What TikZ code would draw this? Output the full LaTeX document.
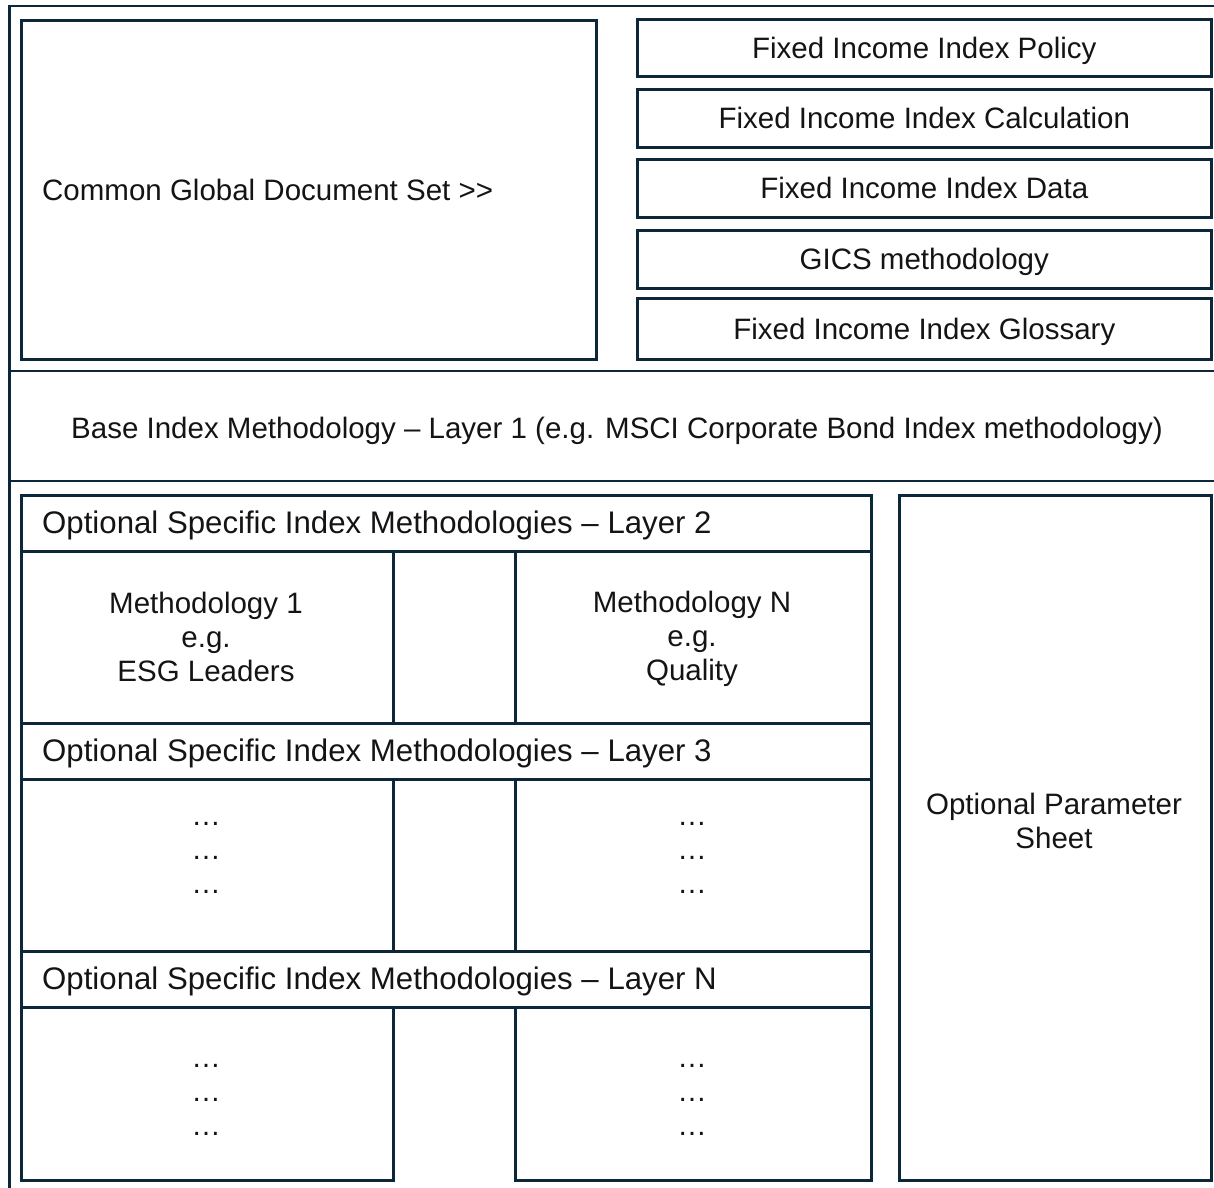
\documentclass[tikz,border=0pt]{standalone}
\usepackage{fontspec}
\setmainfont{Liberation Sans}
\usetikzlibrary{positioning,calc}
\definecolor{msciblue}{HTML}{0C2739}

\begin{document}
\begin{tikzpicture}[x=1pt,y=-1pt]
\tikzset{
    txt/.style={font=\fontsize{29.5}{34}\selectfont,text=black!92,align=center,inner sep=0pt},
    oneline/.style={txt,text height=21pt,text depth=0pt},
    box/.style={rectangle,draw=msciblue,line width=2.6pt,inner sep=0pt,anchor=north west},
    head/.style={oneline,anchor=west},
    layerhead/.style={head,font=\fontsize{31.2}{34}\selectfont},
    frame/.style={draw=msciblue,line width=2.6pt}
}
\useasboundingbox (0,0) rectangle (1214,1187);
% outer frame
\draw[frame] (1220,6) -- (9.5,6) -- (9.5,1195);
\draw[frame] (9.5,371) -- (1220,371) (9.5,481) -- (1220,481);
% common document set
\node[box,minimum width=575pt,minimum height=339pt] (common) at (20,19) {};
\node[head,right=22pt of common.west] (commontxt) {Common Global Document Set >\kern0pt>};
\node[oneline,box,minimum width=574pt,minimum height=57pt] (policy) at (636,18) {Fixed Income Index Policy};
\node[oneline,box,minimum width=574pt,minimum height=58pt] (calc) at (636,88) {Fixed Income Index Calculation};
\node[oneline,box,minimum width=574pt,minimum height=58pt] (data) at (636,158) {Fixed Income Index Data};
\node[oneline,box,minimum width=574pt,minimum height=58pt] (gics) at (636,229) {GICS methodology};
\node[oneline,box,minimum width=574pt,minimum height=61pt] (gloss) at (636,297) {Fixed Income Index Glossary};
% base layer
\node[oneline] (base) at (617,428) {Base Index Methodology -- Layer 1 (e.g. MSCI Corporate Bond Index methodology)};
% layer 2
\node[box,minimum width=850pt,minimum height=56pt] (l2) at (20,494) {};
\node[layerhead,right=22pt of l2.west] (l2txt) {Optional Specific Index Methodologies -- Layer 2};
\node[box,minimum width=372pt,minimum height=172pt] (m1) at (20,550) {};
\node[box,minimum width=356pt,minimum height=172pt] (mN) at (514,550) {};
\node[txt] (m1txt) at (206,637) {Methodology 1\\e.g.\\ESG Leaders};
\node[txt] (mNtxt) at (692,639) {Methodology N\\e.g.\\Quality};
% layer 3
\node[box,minimum width=850pt,minimum height=56pt] (l3) at (20,722) {};
\node[layerhead,right=22pt of l3.west] (l3txt) {Optional Specific Index Methodologies -- Layer 3};
\node[box,minimum width=372pt,minimum height=172pt] (l3a) at (20,778) {};
\node[box,minimum width=356pt,minimum height=172pt] (l3b) at (514,778) {};
\node[txt] (l3atxt) at (206,858) {…\\…\\…};
\node[txt] (l3btxt) at (692,858) {…\\…\\…};
% layer N
\node[box,minimum width=850pt,minimum height=56pt] (lN) at (20,950) {};
\node[layerhead,right=22pt of lN.west] (lNtxt) {Optional Specific Index Methodologies -- Layer N};
\node[box,minimum width=372pt,minimum height=173pt] (lNa) at (20,1006) {};
\node[box,minimum width=356pt,minimum height=173pt] (lNb) at (514,1006) {};
\node[txt] (lNatxt) at (206,1100) {…\\…\\…};
\node[txt] (lNbtxt) at (692,1100) {…\\…\\…};
% parameter sheet
\node[box,minimum width=312pt,minimum height=685pt] (param) at (898,494) {};
\node[txt] (paramtxt) at (1054,821) {Optional Parameter\\Sheet};
\end{tikzpicture}
\end{document}
